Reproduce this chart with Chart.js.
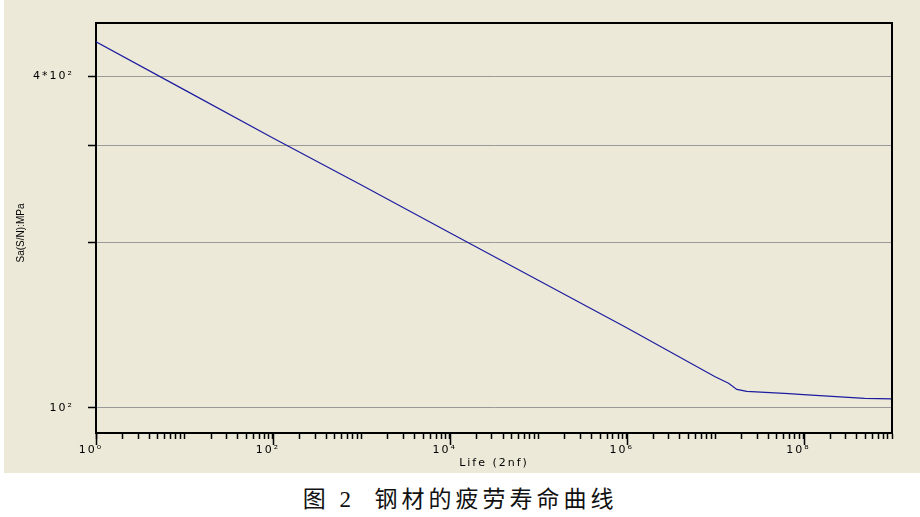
<!DOCTYPE html>
<html lang="zh">
<head>
    <meta charset="UTF-8">
    <title>钢材的疲劳寿命曲线</title>
    <style>
        body {
            margin: 0;
            background: #ffffff;
            width: 920px;
            height: 517px;
            overflow: hidden;
        }
        .chart-box {
            position: absolute;
            left: 4px;
            top: 0;
            width: 916px;
            height: 473px;
            background: #ECE9D8;
        }
        .caption {
            position: absolute;
            left: 0;
            top: 486px;
            width: 920px;
            text-align: center;
            font-family: "Liberation Serif", "Noto Sans CJK SC", serif;
            font-size: 23px;
            line-height: 28px;
            letter-spacing: 4px;
            color: #111;
        }
    </style>
</head>
<body>
    <div class="chart-box">
        <canvas id="chart"></canvas>
    </div>
    <div class="caption">图 2&nbsp; 钢材的疲劳寿命曲线</div>

    <script src="https://cdn.jsdelivr.net/npm/chart.js@4.4.0/dist/chart.umd.js"></script>
    <script>
        // values
        const lifeCycles = [1, 10, 100, 1e3, 1e4, 1e5, 1e6, 1e7, 1.42e7, 1.76e7, 2.28e7, 6.8e7, 1e8, 4.9e8, 1e9];
        const stressAmp = [462, 378, 309, 254, 208, 170.5, 139.8, 113.9, 110.8, 108, 107.1, 106.1, 105.7, 104, 103.8];

        // axis ticks
        const xMajorValues = [1, 100, 1e4, 1e6, 1e8];
        const xMajorLabels = ['10⁰', '10²', '10⁴', '10⁶', '10⁸'];
        const yTickValues = [100, 200, 300, 400];
        const yTickLabels = ['10²', '', '', '4*10²'];
        const yTitle = 'Sa(S/N):MPa';

        const textFont = { family: 'DejaVu Sans', size: 11 };

        // minor ticks at 1..9 x 10^n
        const xAllTicks = [];
        for (let n = 0; n < 9; n++) {
            for (let k = 1; k <= 9; k++) xAllTicks.push(k * Math.pow(10, n));
        }
        xAllTicks.push(1e9);

        // frame on top/right, long ticks under labelled decades, y title
        const framePlugin = {
            id: 'frame',
            beforeDraw(chart) {
                chart.ctx.letterSpacing = '2px';
            },
            afterDraw(chart) {
                const { ctx, chartArea: a, scales } = chart;
                ctx.save();
                ctx.strokeStyle = '#000';
                ctx.lineWidth = 2;
                ctx.beginPath();
                ctx.moveTo(a.left, a.top);
                ctx.lineTo(a.right, a.top);
                ctx.lineTo(a.right, a.bottom);
                ctx.stroke();
                ctx.lineWidth = 1.5;
                xMajorValues.forEach(v => {
                    const px = Math.round(scales.x.getPixelForValue(v)) + 0.5;
                    ctx.beginPath();
                    ctx.moveTo(px, a.bottom);
                    ctx.lineTo(px, a.bottom + 12);
                    ctx.stroke();
                });

                ctx.letterSpacing = '0px';
                ctx.translate(17, (a.top + a.bottom) / 2 + 5);
                ctx.rotate(-Math.PI / 2);
                ctx.fillStyle = '#000';
                ctx.font = '10px "Liberation Sans"';
                ctx.textAlign = 'center';
                ctx.textBaseline = 'middle';
                ctx.fillText(yTitle, 0, 0);
                ctx.restore();
            }
        };

        new Chart(document.getElementById('chart'), {
            type: 'scatter',
            data: {
                datasets: [{
                    data: lifeCycles.map((n, i) => ({ x: n, y: stressAmp[i] })),
                    showLine: true,
                    borderColor: '#1c1ca0',
                    borderWidth: 1.2,
                    pointRadius: 0,
                    tension: 0
                }]
            },
            options: {
                responsive: true,
                maintainAspectRatio: false,
                animation: false,
                layout: { padding: { top: 23, right: 28, left: 0, bottom: 0 } },
                plugins: {
                    legend: { display: false },
                    tooltip: { enabled: false }
                },
                scales: {
                    x: {
                        type: 'logarithmic',
                        min: 1,
                        max: 1e9,
                        afterBuildTicks: s => { s.ticks = xAllTicks.map(v => ({ value: v })); },
                        afterFit: s => { s.height = 40; },
                        ticks: {
                            autoSkip: false,
                            maxRotation: 0,
                            color: '#000',
                            font: textFont,
                            padding: 5,
                            labelOffset: -5,
                            callback: v => {
                                const i = xMajorValues.indexOf(v);
                                return i >= 0 ? xMajorLabels[i] : '';
                            }
                        },
                        grid: {
                            drawOnChartArea: false,
                            tickLength: 6,
                            tickColor: '#000',
                            tickWidth: 1.5
                        },
                        border: { color: '#000', width: 2 },
                        title: {
                            display: true,
                            text: 'Life (2nf)',
                            color: '#000',
                            font: textFont,
                            padding: { top: 0, bottom: 3 }
                        }
                    },
                    y: {
                        type: 'logarithmic',
                        min: 90,
                        max: 500,
                        afterBuildTicks: s => { s.ticks = yTickValues.map(v => ({ value: v })); },
                        afterFit: s => { s.width = 92; },
                        ticks: {
                            color: '#000',
                            font: textFont,
                            padding: 14,
                            callback: v => yTickLabels[yTickValues.indexOf(v)] || ''
                        },
                        grid: {
                            color: '#999999',
                            lineWidth: 1,
                            tickLength: 8,
                            tickColor: '#000',
                            tickWidth: 1.5
                        },
                        border: { color: '#000', width: 2 }
                    }
                }
            },
            plugins: [framePlugin]
        });
    </script>
</body>
</html>
